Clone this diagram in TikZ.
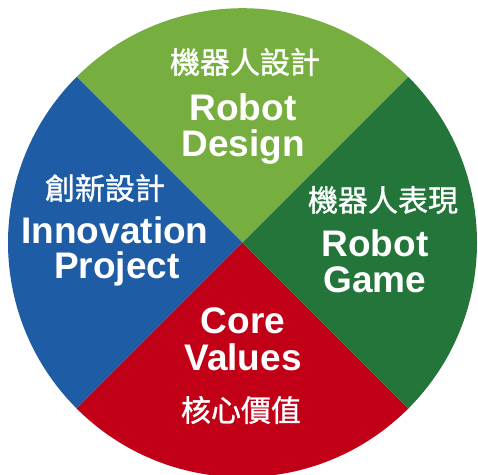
\documentclass[tikz,border=0pt]{standalone}
\usepackage{fontspec}
\setmainfont{Liberation Sans}
\newfontfamily\cjk[FakeBold=1.2]{Noto Sans CJK TC}
\definecolor{designgreen}{HTML}{77AE40}
\definecolor{gamegreen}{HTML}{237539}
\definecolor{innoblue}{HTML}{1F5CA6}
\definecolor{corered}{HTML}{C10017}
\tikzset{
  entitle/.style={text=white, inner sep=0pt, anchor=base, font=\fontsize{37}{36}\selectfont\bfseries},
  zhtitle/.style={text=white, inner sep=0pt, anchor=center, font=\fontsize{30}{30}\selectfont\cjk}
}
\begin{document}
\begin{tikzpicture}[x=1pt,y=1pt]
\useasboundingbox (-242.5,-231.3) rectangle (235.5,242.7);
\clip (-242.5,-231.3) rectangle (235.5,242.7);

% four quarters of the wheel
\fill[designgreen] (0,0) -- (45:234.5) arc[start angle=45, end angle=135, radius=234.5] -- cycle;
\fill[innoblue] (0,0) -- (135:234.5) arc[start angle=135, end angle=225, radius=234.5] -- cycle;
\fill[corered] (0,0) -- (225:234.5) arc[start angle=225, end angle=315, radius=234.5] -- cycle;
\fill[gamegreen] (0,0) -- (315:234.5) arc[start angle=315, end angle=405, radius=234.5] -- cycle;

% top
\node[zhtitle] (designzh) at (2.5,180.7) {機器人設計};
\node[entitle] (designa) at (0.5,122.7) {Robot};
\node[entitle] (designb) at (0.5,86.7) {Design};

% right
\node[zhtitle] (gamezh) at (140.5,42.7) {機器人表現};
\node[entitle] (gamea) at (132.5,-13.3) {Robot};
\node[entitle] (gameb) at (132.5,-49.3) {Game};

% left
\node[zhtitle] (innozh) at (-137.5,54.7) {創新設計};
\node[entitle] (innoa) at (-127.5,-0.3) {Innovation};
\node[entitle] (innob) at (-125.5,-35.3) {Project};

% bottom
\node[entitle] (corea) at (0.5,-90.3) {Core};
\node[entitle] (coreb) at (0.5,-127.3) {Values};
\node[zhtitle] (corezh) at (-1.5,-167.3) {核心價值};
\end{tikzpicture}
\end{document}
